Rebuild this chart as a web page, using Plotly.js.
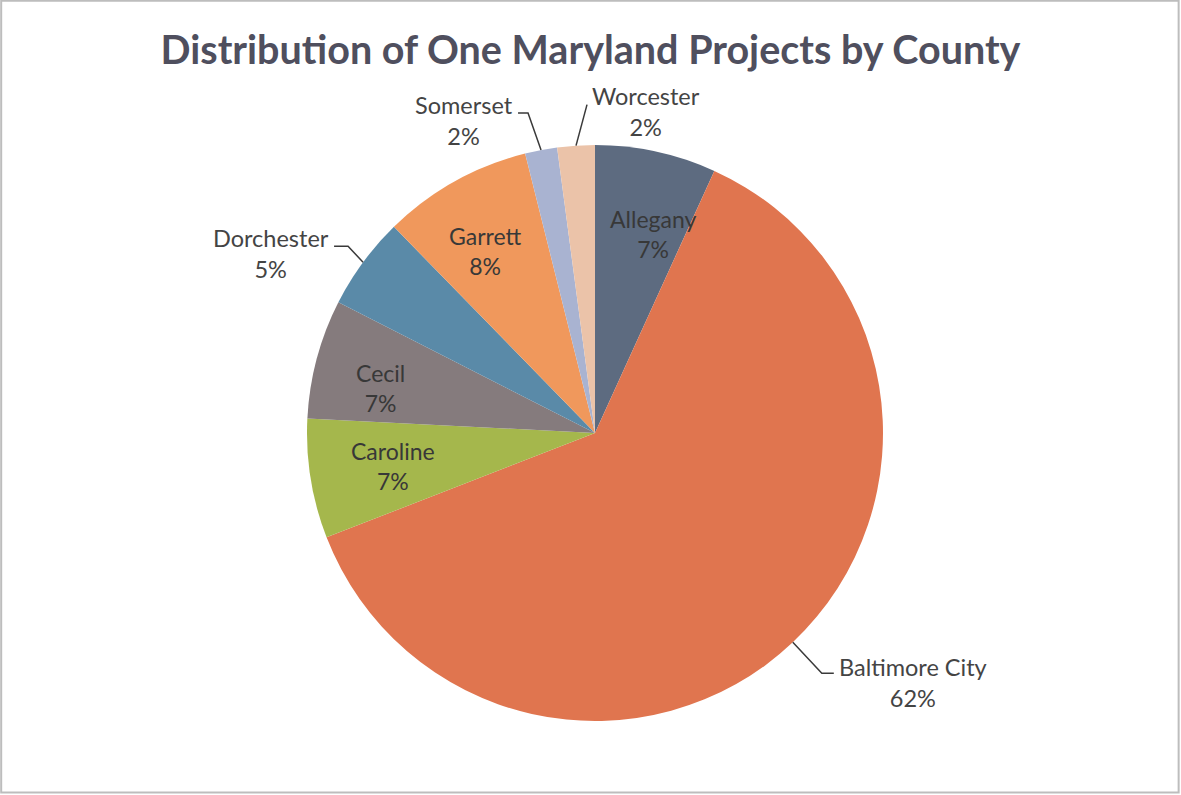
<!DOCTYPE html>
<html>
<head>
<meta charset="utf-8">
<script src="https://cdn.plot.ly/plotly-3.0.1.min.js"></script>
<style>html,body{margin:0;padding:0;background:#fff;}#chart{width:1181px;height:795px;}</style>
</head>
<body>
<div id="chart"></div>
<script>
// ---- Data ----
const counties = ['Allegany','Baltimore City','Caroline','Cecil','Dorchester','Garrett','Somerset','Worcester'];
const shares   = [6.8, 62.3, 6.7, 6.7, 5.2, 8.4, 1.8, 2.1];
const sliceColors = ['#5d6b80','#e0754f','#a5b74c','#857b7d','#5a8aa8','#f0985c','#a9b3d1','#ebc3a9'];
const chartTitle = 'Distribution of One Maryland Projects by County';

// ---- Layout geometry (style) ----
const W = 1181, H = 795;
const cx = 595, cy = 433, R = 288;
const px2x = p => p / W;
const py2y = p => 1 - p / H;
const labelFont = {family: 'Lato, "Open Sans", sans-serif', size: 23.5, color: '#444444'};
const insideFont = {family: 'Lato, "Open Sans", sans-serif', size: 23, color: '#383838'};

// label placement: 'in' = inside along mid-angle; 'out' = leader line (elbow offset from slice edge, then horizontal run)
const placement = {
  'Allegany':       {mode: 'in', rf: 0.72, da: 4},
  'Baltimore City': {mode: 'out', dx: 29, dy: 31, hor: 12, side: 'right', ty: 9},
  'Caroline':       {mode: 'in', rf: 0.71, da: 0},
  'Cecil':          {mode: 'in', rf: 0.76, da: -3},
  'Dorchester':     {mode: 'out', dx: -15, dy: -16, hor: -14, side: 'left', ty: 7},
  'Garrett':        {mode: 'in', rf: 0.74, da: -2},
  'Somerset':       {mode: 'out', dx: -13, dy: -37, hor: -10, side: 'left', ty: 7},
  'Worcester':      {mode: 'out', dx: 11, dy: -41, hor: 0, side: 'right', ty: 7}
};

const total = shares.reduce((a, b) => a + b, 0);
const annotations = [];
const shapes = [];
let cum = 0;
shares.forEach((v, i) => {
  const mid = (cum + v / 2) / total * 2 * Math.PI;
  cum += v;
  const name = counties[i];
  const pct = Math.round(v / total * 100) + '%';
  const p = placement[name];
  const txt = name + '<br>' + pct;
  if (p.mode === 'in') {
    const a = mid + p.da * Math.PI / 180;
    const x = cx + p.rf * R * Math.sin(a);
    const y = cy - p.rf * R * Math.cos(a);
    annotations.push({x: px2x(x), y: py2y(y), xref: 'paper', yref: 'paper', text: txt,
      showarrow: false, align: 'center', xanchor: 'center', yanchor: 'middle', font: insideFont});
  } else {
    const ex = cx + R * Math.sin(mid), ey = cy - R * Math.cos(mid);
    const ox = ex + p.dx, oy = ey + p.dy;
    const hx = ox + p.hor, hy = oy;
    shapes.push({type: 'path', xref: 'paper', yref: 'paper',
      path: `M ${px2x(ex)} ${py2y(ey)} L ${px2x(ox)} ${py2y(oy)} L ${px2x(hx)} ${py2y(hy)}`,
      line: {color: '#3a3a3a', width: 1.5}});
    const tx = p.side === 'right' ? hx + 3 : hx - 3;
    annotations.push({x: px2x(tx), y: py2y(hy + p.ty), xref: 'paper', yref: 'paper', text: txt,
      showarrow: false, align: 'center', xanchor: p.side === 'right' ? 'left' : 'right',
      yanchor: 'middle', font: labelFont});
  }
});

shapes.push({type: 'rect', xref: 'paper', yref: 'paper', x0: 0.001, x1: 0.998, y0: 0.003, y1: 0.999,
  line: {color: '#bdbdbd', width: 2}});

const trace = {
  type: 'pie',
  labels: counties,
  values: shares,
  sort: false,
  direction: 'clockwise',
  rotation: 0,
  textinfo: 'none',
  hoverinfo: 'label+percent',
  marker: {colors: sliceColors, line: {width: 0}},
  domain: {x: [px2x(cx - R), px2x(cx + R)], y: [py2y(cy + R), py2y(cy - R)]},
  showlegend: false
};

const layout = {
  width: W, height: H,
  margin: {l: 0, r: 0, t: 0, b: 0},
  paper_bgcolor: '#ffffff',
  title: {text: '<b>' + chartTitle + '</b>', x: 0.5, xanchor: 'center', y: py2y(50), yanchor: 'middle',
    font: {family: 'Lato, "Open Sans", sans-serif', size: 39.5, color: '#4f4f5e'}},
  annotations: annotations,
  shapes: shapes,
  showlegend: false
};

Plotly.newPlot('chart', [trace], layout, {displayModeBar: false, staticPlot: true});
</script>
</body>
</html>
